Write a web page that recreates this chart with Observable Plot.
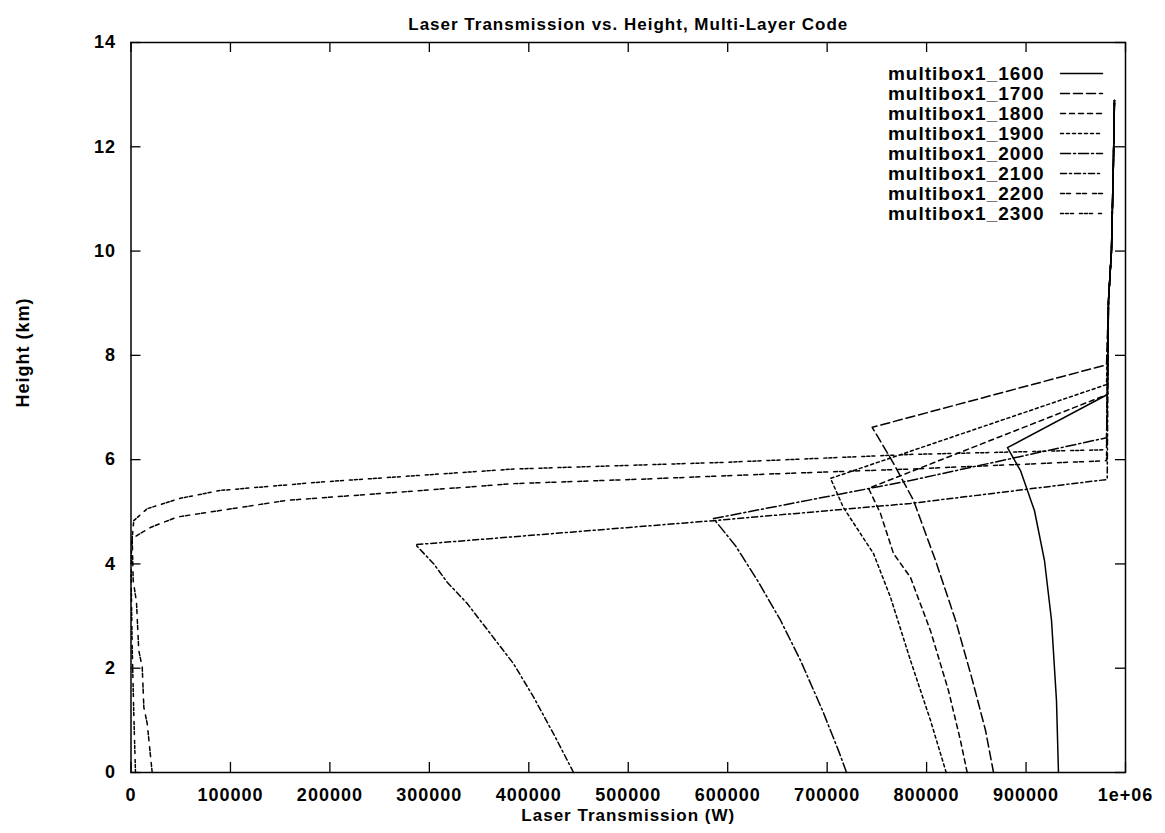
<!DOCTYPE html>
<html><head><meta charset="utf-8">
<script src="https://cdn.jsdelivr.net/npm/d3@7"></script>
<script src="https://cdn.jsdelivr.net/npm/@observablehq/plot@0.6"></script>
<style>body{margin:0;background:#fff}</style>
</head><body><div id="chart"></div>
<script>
// ---- data (Laser transmission in W, height in km) ----
const seriesNames = ["multibox1_1600","multibox1_1700","multibox1_1800","multibox1_1900",
                     "multibox1_2000","multibox1_2100","multibox1_2200","multibox1_2300"];

const t1600 = [932600, 930600, 925600, 918500, 908500, 894400, 881300, 981900];
const h1600 = [0, 1.38, 2.92, 4.07, 5.02, 5.79, 6.23, 7.25];

const t1700 = [867300, 859200, 846200, 829100, 808900, 786800, 766700, 745300, 980900];
const h1700 = [0, 0.81, 1.76, 2.92, 4.07, 5.22, 5.93, 6.62, 7.82];

const t1800 = [840800, 834100, 822000, 803900, 783800, 766700, 753600, 741600, 981900];
const h1800 = [0, 0.61, 1.57, 2.72, 3.74, 4.20, 4.97, 5.45, 7.25];

const t1900 = [819700, 803900, 783800, 763700, 746600, 716400, 703400, 980900];
const h1900 = [0, 1.00, 2.15, 3.36, 4.20, 5.08, 5.64, 7.44];

const t2000 = [719500, 711400, 695300, 673200, 653100, 630000, 607800, 585700, 783800, 980900];
const h2000 = [0, 0.42, 1.19, 2.15, 2.92, 3.68, 4.35, 4.87, 5.60, 6.42];

const t2100 = [445000, 426900, 405000, 384900, 361500, 338100, 317900, 304500, 286100, 585700, 783800, 981600];
const h2100 = [0, 0.67, 1.44, 2.08, 2.66, 3.24, 3.65, 4.00, 4.37, 4.83, 5.16, 5.62];

const t2200 = [21300, 16300, 12900, 11300, 7800, 5500, 2200, 1200, 19600, 46500, 157100, 250900, 384900, 519100, 649800, 783800, 980900];
const h2200 = [0, 0.94, 1.25, 2.02, 2.34, 3.27, 3.68, 4.49, 4.70, 4.90, 5.22, 5.35, 5.54, 5.63, 5.73, 5.82, 5.98];

const t2300 = [4500, 2800, 1200, 200, 500, 2800, 16300, 49800, 90000, 190500, 384900, 599500, 783800, 980900];
const h2300 = [0, 1.13, 2.40, 3.68, 4.35, 4.83, 5.06, 5.26, 5.41, 5.57, 5.82, 5.95, 6.10, 6.19];

// common upper part (near-full transmission above the layers)
const tailT = [982900, 985900, 987900, 988900];
const tailH = [9.05, 10.01, 11.74, 12.89];

const xTicks = [0, 100000, 200000, 300000, 400000, 500000, 600000, 700000, 800000, 900000, 1000000];
const xTickLabels = ["0","100000","200000","300000","400000","500000","600000","700000","800000","900000","1e+06"];
const yTicks = [0, 2, 4, 6, 8, 10, 12, 14];

const titleText = "Laser Transmission vs. Height, Multi-Layer Code";
const xLabel = "Laser Transmission (W)";
const yLabel = "Height (km)";

// ---- build table ----
const tList = [t1600,t1700,t1800,t1900,t2000,t2100,t2200,t2300];
const hList = [h1600,h1700,h1800,h1900,h2000,h2100,h2200,h2300];
const dashes = ["none","9,4","5,4","3,3","10,3,2,3","6,3,2,3","4,2,4,6","3,2,3,2,3,6"];

const rows = [];
seriesNames.forEach((name, s) => {
  const T = tList[s], Hh = hList[s];
  T.forEach((t, i) => rows.push({series: name, t, h: Hh[i]}));
  const last = Hh[Hh.length - 1];
  tailT.forEach((t, i) => { if (tailH[i] > last) rows.push({series: name, t, h: tailH[i]}); });
});

// ---- layout ----
const W = 1165, H = 833, mL = 130.5, mR = 40, mT = 42, mB = 61;
const fw = W - mL - mR, fh = H - mT - mB;
const xMax = 1000000, yMax = 14;
const pxToX = px => (px - mL) / fw * xMax;
const pxToY = py => (H - mB - py) / fh * yMax;

const legendRows = seriesNames.map((name, i) => ({name, i, y: pxToY(73 + 20 * i)}));
const legendLines = [];
legendRows.forEach(r => {
  legendLines.push({name: r.name, i: r.i, x: pxToX(1060), y: r.y});
  legendLines.push({name: r.name, i: r.i, x: pxToX(1102), y: r.y});
});

const marks = [
  Plot.frame({strokeWidth: 1.5}),
  Plot.ruleX(xTicks, {insetTop: fh - 10, strokeWidth: 1.3}),
  Plot.ruleX(xTicks, {insetBottom: fh - 10, strokeWidth: 1.3}),
  Plot.ruleY(yTicks, {insetRight: fw - 10, strokeWidth: 1.3}),
  Plot.ruleY(yTicks, {insetLeft: fw - 10, strokeWidth: 1.3}),
  Plot.axisX({ticks: xTicks, tickSize: 0, tickPadding: 16, label: null,
               tickFormat: d => xTickLabels[xTicks.indexOf(d)], fontSize: 18, fontWeight: "bold"}),
  Plot.axisY({ticks: yTicks, tickSize: 0, tickPadding: 15, label: null, fontSize: 18, fontWeight: "bold"}),
  Plot.text([titleText], {frameAnchor: "top", dy: -25, fontSize: 17, fontWeight: "bold"}),
  Plot.text([xLabel], {frameAnchor: "bottom", dy: 36, lineAnchor: "top", fontSize: 17, fontWeight: "bold"}),
  Plot.text([yLabel], {frameAnchor: "left", dx: -108, rotate: -90, fontSize: 18, fontWeight: "bold"}),
];
seriesNames.forEach((name, s) => {
  marks.push(Plot.line(rows.filter(r => r.series === name),
    {x: "t", y: "h", stroke: "black", strokeWidth: 1.5, strokeDasharray: dashes[s]}));
  marks.push(Plot.line(legendLines.filter(r => r.name === name),
    {x: "x", y: "y", stroke: "black", strokeWidth: 1.5, strokeDasharray: dashes[s]}));
});
marks.push(Plot.text(legendRows, {x: () => pxToX(1044), y: "y", text: "name", textAnchor: "end",
  fontSize: 19, fontWeight: "bold"}));

const plot = Plot.plot({
  width: W, height: H,
  marginLeft: mL, marginRight: mR, marginTop: mT, marginBottom: mB,
  x: {domain: [0, xMax]},
  y: {domain: [0, yMax]},
  style: {fontFamily: "'Liberation Sans', Arial, sans-serif", color: "black", background: "white", letterSpacing: "1px"},
  marks
});
document.getElementById("chart").append(plot);
</script>
</body></html>
